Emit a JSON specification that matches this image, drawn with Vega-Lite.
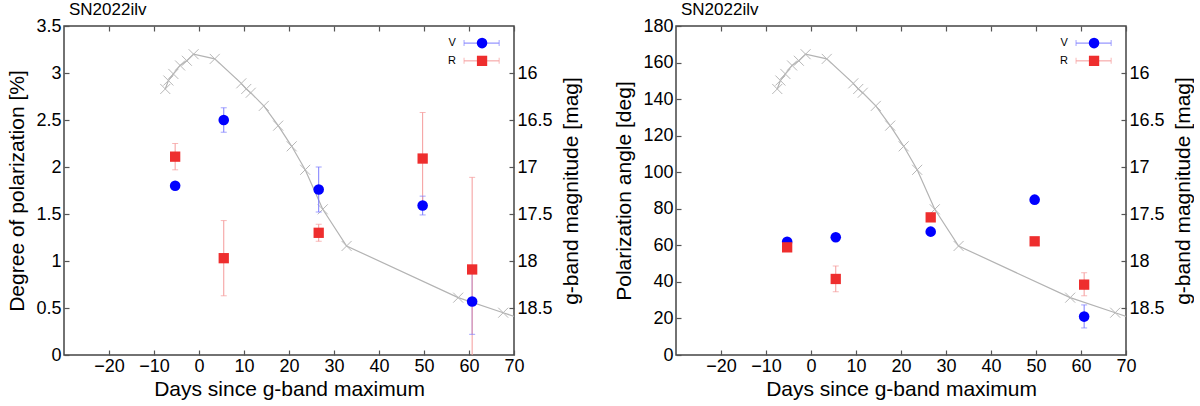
{
  "$schema": "https://vega.github.io/schema/vega-lite/v6.json",
  "background": "white",
  "padding": {"left": 6, "top": 0, "right": 0, "bottom": 0},
  "datasets": {
    "lc": [
      {"day": -7.5, "mag": 16.17}, {"day": -6.8, "mag": 16.08}, {"day": -5.7, "mag": 16.01},
      {"day": -4.2, "mag": 15.92}, {"day": -2.7, "mag": 15.87}, {"day": -1.2, "mag": 15.80},
      {"day": 3.5, "mag": 15.85}, {"day": 9.4, "mag": 16.11}, {"day": 10.5, "mag": 16.17},
      {"day": 11.5, "mag": 16.21}, {"day": 14.4, "mag": 16.35}, {"day": 17.6, "mag": 16.56},
      {"day": 20.6, "mag": 16.78}, {"day": 23.6, "mag": 17.03}, {"day": 27.5, "mag": 17.45},
      {"day": 32.8, "mag": 17.84}, {"day": 57.6, "mag": 18.39}, {"day": 67.6, "mag": 18.55},
      {"day": 75.0, "mag": 18.67}
    ],
    "pol": [
      {"band": "V", "day": -5.3, "val": 1.80, "lo": 1.77, "hi": 1.83},
      {"band": "V", "day": 5.5, "val": 2.50, "lo": 2.37, "hi": 2.63},
      {"band": "V", "day": 26.6, "val": 1.76, "lo": 1.52, "hi": 2.00},
      {"band": "V", "day": 49.7, "val": 1.59, "lo": 1.49, "hi": 1.69},
      {"band": "V", "day": 60.7, "val": 0.57, "lo": 0.22, "hi": 0.92},
      {"band": "R", "day": -5.3, "val": 2.11, "lo": 1.97, "hi": 2.25},
      {"band": "R", "day": 5.5, "val": 1.03, "lo": 0.63, "hi": 1.43},
      {"band": "R", "day": 26.6, "val": 1.30, "lo": 1.21, "hi": 1.39},
      {"band": "R", "day": 49.7, "val": 2.09, "lo": 1.60, "hi": 2.58},
      {"band": "R", "day": 60.7, "val": 0.91, "lo": -0.07, "hi": 1.89}
    ],
    "pa": [
      {"band": "V", "day": -5.3, "val": 62.0, "lo": 61.0, "hi": 63.0},
      {"band": "V", "day": 5.5, "val": 64.4, "lo": 63.0, "hi": 65.8},
      {"band": "V", "day": 26.6, "val": 67.5, "lo": 66.0, "hi": 69.0},
      {"band": "V", "day": 49.7, "val": 85.0, "lo": 84.0, "hi": 86.0},
      {"band": "V", "day": 60.7, "val": 21.0, "lo": 14.8, "hi": 27.4},
      {"band": "R", "day": -5.3, "val": 58.9, "lo": 57.5, "hi": 60.3},
      {"band": "R", "day": 5.5, "val": 41.6, "lo": 34.6, "hi": 48.7},
      {"band": "R", "day": 26.6, "val": 75.3, "lo": 74.0, "hi": 76.6},
      {"band": "R", "day": 49.7, "val": 62.2, "lo": 61.0, "hi": 63.4},
      {"band": "R", "day": 60.7, "val": 38.5, "lo": 32.4, "hi": 45.0}
    ],
    "key": [{"entry": 1}]
  },
  "spacing": 162,
  "bounds": "flush",
  "resolve": {"scale": {"fill": "independent", "color": "independent"}},
  "hconcat": [
    {
      "width": 450,
      "height": 329,
      "title": {"text": "SN2022ilv", "anchor": "start", "frame": "group", "fontSize": 17, "fontWeight": "normal", "offset": -2, "dx": 5, "color": "#000000"},
      "resolve": {"scale": {"y": "independent"}, "axis": {"x": "independent"}},
      "layer": [
        {
          "data": {"name": "lc"},
          "encoding": {
            "x": {"field": "day", "type": "quantitative", "scale": {"domain": [-30, 70]},
              "axis": {"orient": "bottom", "values": [-20, -10, 0, 10, 20, 30, 40, 50, 60, 70], "title": "Days since g-band maximum", "format": "~f", "labelOverlap": false, "labelPadding": 7, "titlePadding": 3}},
            "y": {"field": "mag", "type": "quantitative", "scale": {"domain": [15.5, 19], "reverse": true, "zero": false},
              "axis": {"orient": "right", "values": [16, 16.5, 17, 17.5, 18, 18.5], "title": "g-band magnitude [mag]", "titleAngle": -90, "titleBaseline": "top", "format": "~f", "labelOverlap": false}}
          },
          "layer": [
            {"mark": {"type": "line", "color": "#b3b3b3", "strokeWidth": 1.2, "clip": true}},
            {"mark": {"type": "point", "shape": "M-1,-1L1,1M1,-1L-1,1", "size": 100, "filled": false, "color": "#b8b8b8", "strokeWidth": 1, "opacity": 1, "clip": true}}
          ]
        },
        {
          "data": {"name": "pol"},
          "encoding": {
            "x": {"field": "day", "type": "quantitative", "scale": {"domain": [-30, 70]},
              "axis": {"orient": "top", "values": [-20, -10, 0, 10, 20, 30, 40, 50, 60, 70], "labels": false, "title": null, "minExtent": 0, "titlePadding": 0, "labelPadding": 0, "titleFontSize": 1}},
            "y": {"field": "val", "type": "quantitative", "scale": {"domain": [0, 3.5]},
              "axis": {"orient": "left", "values": [0, 0.5, 1, 1.5, 2, 2.5, 3, 3.5], "title": "Degree of polarization [%]", "format": "~f", "labelOverlap": false}}
          },
          "layer": [
            {
              "mark": {"type": "rule", "strokeWidth": 1, "clip": true},
              "encoding": {
                "y": {"field": "lo", "type": "quantitative", "scale": {"domain": [0, 3.5]},
                  "axis": {"orient": "left", "values": [0, 0.5, 1, 1.5, 2, 2.5, 3, 3.5], "title": "Degree of polarization [%]", "format": "~f", "labelOverlap": false}},
                "y2": {"field": "hi"},
                "color": {"field": "band", "type": "nominal", "scale": {"domain": ["V", "R"], "range": ["#7c7cff", "#f59a9a"]}, "legend": null}
              }
            },
            {
              "mark": {"type": "tick", "orient": "horizontal", "size": 6, "thickness": 1, "clip": true},
              "encoding": {
                "y": {"field": "lo", "type": "quantitative", "scale": {"domain": [0, 3.5]},
                  "axis": {"orient": "left", "values": [0, 0.5, 1, 1.5, 2, 2.5, 3, 3.5], "title": "Degree of polarization [%]", "format": "~f", "labelOverlap": false}},
                "color": {"field": "band", "type": "nominal", "scale": {"domain": ["V", "R"], "range": ["#7c7cff", "#f59a9a"]}, "legend": null}
              }
            },
            {
              "mark": {"type": "tick", "orient": "horizontal", "size": 6, "thickness": 1, "clip": true},
              "encoding": {
                "y": {"field": "hi", "type": "quantitative", "scale": {"domain": [0, 3.5]},
                  "axis": {"orient": "left", "values": [0, 0.5, 1, 1.5, 2, 2.5, 3, 3.5], "title": "Degree of polarization [%]", "format": "~f", "labelOverlap": false}},
                "color": {"field": "band", "type": "nominal", "scale": {"domain": ["V", "R"], "range": ["#7c7cff", "#f59a9a"]}, "legend": null}
              }
            },
            {
              "transform": [{"filter": "datum.band === 'V'"}],
              "mark": {"type": "point", "shape": "circle", "filled": true, "opacity": 1, "size": 112, "strokeWidth": 0, "color": "#0000ff"}
            },
            {
              "transform": [{"filter": "datum.band === 'R'"}],
              "mark": {"type": "point", "shape": "square", "filled": true, "opacity": 1, "size": 106, "strokeWidth": 0, "color": "#ee2e2e"}
            }
          ]
        },
        {
          "data": {"name": "key"},
          "layer": [
            {"mark": {"type": "rule", "color": "#7c7cff", "strokeWidth": 1},
              "encoding": {"x": {"datum": 58.9, "type": "quantitative", "axis": null}, "x2": {"datum": 66.7}, "y": {"datum": 0.948, "type": "quantitative", "scale": {"domain": [0, 1]}, "axis": null}}},
            {"mark": {"type": "tick", "orient": "vertical", "size": 6, "thickness": 1, "color": "#7c7cff"},
              "encoding": {"x": {"datum": 58.9, "type": "quantitative", "axis": null}, "y": {"datum": 0.948, "type": "quantitative", "axis": null}}},
            {"mark": {"type": "tick", "orient": "vertical", "size": 6, "thickness": 1, "color": "#7c7cff"},
              "encoding": {"x": {"datum": 66.7, "type": "quantitative", "axis": null}, "y": {"datum": 0.948, "type": "quantitative", "axis": null}}},
            {"mark": {"type": "point", "shape": "circle", "filled": true, "opacity": 1, "size": 112, "strokeWidth": 0, "color": "#0000ff"},
              "encoding": {"x": {"datum": 62.9, "type": "quantitative", "axis": null}, "y": {"datum": 0.948, "type": "quantitative", "axis": null}}},
            {"mark": {"type": "text", "text": "V", "align": "right", "baseline": "middle", "fontSize": 11, "color": "#000000"},
              "encoding": {"x": {"datum": 57.1, "type": "quantitative", "axis": null}, "y": {"datum": 0.948, "type": "quantitative", "axis": null}}},
            {"mark": {"type": "rule", "color": "#f59a9a", "strokeWidth": 1},
              "encoding": {"x": {"datum": 58.9, "type": "quantitative", "axis": null}, "x2": {"datum": 66.7}, "y": {"datum": 0.894, "type": "quantitative", "axis": null}}},
            {"mark": {"type": "tick", "orient": "vertical", "size": 6, "thickness": 1, "color": "#f59a9a"},
              "encoding": {"x": {"datum": 58.9, "type": "quantitative", "axis": null}, "y": {"datum": 0.894, "type": "quantitative", "axis": null}}},
            {"mark": {"type": "tick", "orient": "vertical", "size": 6, "thickness": 1, "color": "#f59a9a"},
              "encoding": {"x": {"datum": 66.7, "type": "quantitative", "axis": null}, "y": {"datum": 0.894, "type": "quantitative", "axis": null}}},
            {"mark": {"type": "point", "shape": "square", "filled": true, "opacity": 1, "size": 106, "strokeWidth": 0, "color": "#ee2e2e"},
              "encoding": {"x": {"datum": 62.9, "type": "quantitative", "axis": null}, "y": {"datum": 0.894, "type": "quantitative", "axis": null}}},
            {"mark": {"type": "text", "text": "R", "align": "right", "baseline": "middle", "fontSize": 11, "color": "#000000"},
              "encoding": {"x": {"datum": 57.1, "type": "quantitative", "axis": null}, "y": {"datum": 0.894, "type": "quantitative", "axis": null}}}
          ]
        }
      ]
    },
    {
      "width": 450,
      "height": 329,
      "title": {"text": "SN2022ilv", "anchor": "start", "frame": "group", "fontSize": 17, "fontWeight": "normal", "offset": -2, "dx": 5, "color": "#000000"},
      "resolve": {"scale": {"y": "independent"}, "axis": {"x": "independent"}},
      "layer": [
        {
          "data": {"name": "lc"},
          "encoding": {
            "x": {"field": "day", "type": "quantitative", "scale": {"domain": [-30, 70]},
              "axis": {"orient": "bottom", "values": [-20, -10, 0, 10, 20, 30, 40, 50, 60, 70], "title": "Days since g-band maximum", "format": "~f", "labelOverlap": false, "labelPadding": 7, "titlePadding": 3}},
            "y": {"field": "mag", "type": "quantitative", "scale": {"domain": [15.5, 19], "reverse": true, "zero": false},
              "axis": {"orient": "right", "values": [16, 16.5, 17, 17.5, 18, 18.5], "title": "g-band magnitude [mag]", "titleAngle": -90, "titleBaseline": "top", "format": "~f", "labelOverlap": false}}
          },
          "layer": [
            {"mark": {"type": "line", "color": "#b3b3b3", "strokeWidth": 1.2, "clip": true}},
            {"mark": {"type": "point", "shape": "M-1,-1L1,1M1,-1L-1,1", "size": 100, "filled": false, "color": "#b8b8b8", "strokeWidth": 1, "opacity": 1, "clip": true}}
          ]
        },
        {
          "data": {"name": "pa"},
          "encoding": {
            "x": {"field": "day", "type": "quantitative", "scale": {"domain": [-30, 70]},
              "axis": {"orient": "top", "values": [-20, -10, 0, 10, 20, 30, 40, 50, 60, 70], "labels": false, "title": null, "minExtent": 0, "titlePadding": 0, "labelPadding": 0, "titleFontSize": 1}},
            "y": {"field": "val", "type": "quantitative", "scale": {"domain": [0, 180]},
              "axis": {"orient": "left", "values": [0, 20, 40, 60, 80, 100, 120, 140, 160, 180], "title": "Polarization angle [deg]", "format": "~f", "labelOverlap": false}}
          },
          "layer": [
            {
              "mark": {"type": "rule", "strokeWidth": 1, "clip": true},
              "encoding": {
                "y": {"field": "lo", "type": "quantitative", "scale": {"domain": [0, 180]},
                  "axis": {"orient": "left", "values": [0, 20, 40, 60, 80, 100, 120, 140, 160, 180], "title": "Polarization angle [deg]", "format": "~f", "labelOverlap": false}},
                "y2": {"field": "hi"},
                "color": {"field": "band", "type": "nominal", "scale": {"domain": ["V", "R"], "range": ["#7c7cff", "#f59a9a"]}, "legend": null}
              }
            },
            {
              "mark": {"type": "tick", "orient": "horizontal", "size": 6, "thickness": 1, "clip": true},
              "encoding": {
                "y": {"field": "lo", "type": "quantitative", "scale": {"domain": [0, 180]},
                  "axis": {"orient": "left", "values": [0, 20, 40, 60, 80, 100, 120, 140, 160, 180], "title": "Polarization angle [deg]", "format": "~f", "labelOverlap": false}},
                "color": {"field": "band", "type": "nominal", "scale": {"domain": ["V", "R"], "range": ["#7c7cff", "#f59a9a"]}, "legend": null}
              }
            },
            {
              "mark": {"type": "tick", "orient": "horizontal", "size": 6, "thickness": 1, "clip": true},
              "encoding": {
                "y": {"field": "hi", "type": "quantitative", "scale": {"domain": [0, 180]},
                  "axis": {"orient": "left", "values": [0, 20, 40, 60, 80, 100, 120, 140, 160, 180], "title": "Polarization angle [deg]", "format": "~f", "labelOverlap": false}},
                "color": {"field": "band", "type": "nominal", "scale": {"domain": ["V", "R"], "range": ["#7c7cff", "#f59a9a"]}, "legend": null}
              }
            },
            {
              "transform": [{"filter": "datum.band === 'V'"}],
              "mark": {"type": "point", "shape": "circle", "filled": true, "opacity": 1, "size": 112, "strokeWidth": 0, "color": "#0000ff"}
            },
            {
              "transform": [{"filter": "datum.band === 'R'"}],
              "mark": {"type": "point", "shape": "square", "filled": true, "opacity": 1, "size": 106, "strokeWidth": 0, "color": "#ee2e2e"}
            }
          ]
        },
        {
          "data": {"name": "key"},
          "layer": [
            {"mark": {"type": "rule", "color": "#7c7cff", "strokeWidth": 1},
              "encoding": {"x": {"datum": 58.9, "type": "quantitative", "axis": null}, "x2": {"datum": 66.7}, "y": {"datum": 0.948, "type": "quantitative", "scale": {"domain": [0, 1]}, "axis": null}}},
            {"mark": {"type": "tick", "orient": "vertical", "size": 6, "thickness": 1, "color": "#7c7cff"},
              "encoding": {"x": {"datum": 58.9, "type": "quantitative", "axis": null}, "y": {"datum": 0.948, "type": "quantitative", "axis": null}}},
            {"mark": {"type": "tick", "orient": "vertical", "size": 6, "thickness": 1, "color": "#7c7cff"},
              "encoding": {"x": {"datum": 66.7, "type": "quantitative", "axis": null}, "y": {"datum": 0.948, "type": "quantitative", "axis": null}}},
            {"mark": {"type": "point", "shape": "circle", "filled": true, "opacity": 1, "size": 112, "strokeWidth": 0, "color": "#0000ff"},
              "encoding": {"x": {"datum": 62.9, "type": "quantitative", "axis": null}, "y": {"datum": 0.948, "type": "quantitative", "axis": null}}},
            {"mark": {"type": "text", "text": "V", "align": "right", "baseline": "middle", "fontSize": 11, "color": "#000000"},
              "encoding": {"x": {"datum": 57.1, "type": "quantitative", "axis": null}, "y": {"datum": 0.948, "type": "quantitative", "axis": null}}},
            {"mark": {"type": "rule", "color": "#f59a9a", "strokeWidth": 1},
              "encoding": {"x": {"datum": 58.9, "type": "quantitative", "axis": null}, "x2": {"datum": 66.7}, "y": {"datum": 0.894, "type": "quantitative", "axis": null}}},
            {"mark": {"type": "tick", "orient": "vertical", "size": 6, "thickness": 1, "color": "#f59a9a"},
              "encoding": {"x": {"datum": 58.9, "type": "quantitative", "axis": null}, "y": {"datum": 0.894, "type": "quantitative", "axis": null}}},
            {"mark": {"type": "tick", "orient": "vertical", "size": 6, "thickness": 1, "color": "#f59a9a"},
              "encoding": {"x": {"datum": 66.7, "type": "quantitative", "axis": null}, "y": {"datum": 0.894, "type": "quantitative", "axis": null}}},
            {"mark": {"type": "point", "shape": "square", "filled": true, "opacity": 1, "size": 106, "strokeWidth": 0, "color": "#ee2e2e"},
              "encoding": {"x": {"datum": 62.9, "type": "quantitative", "axis": null}, "y": {"datum": 0.894, "type": "quantitative", "axis": null}}},
            {"mark": {"type": "text", "text": "R", "align": "right", "baseline": "middle", "fontSize": 11, "color": "#000000"},
              "encoding": {"x": {"datum": 57.1, "type": "quantitative", "axis": null}, "y": {"datum": 0.894, "type": "quantitative", "axis": null}}}
          ]
        }
      ]
    }
  ],
  "config": {
    "font": "Liberation Sans",
    "view": {"stroke": "#444444", "strokeWidth": 1.5},
    "axis": {
      "grid": false,
      "domain": false,
      "tickSize": -5,
      "tickColor": "#555555",
      "tickWidth": 1.2,
      "labelFontSize": 18,
      "labelColor": "#000000",
      "labelPadding": 8,
      "labelFlush": false,
      "titleFontSize": 21,
      "titleFontWeight": "normal",
      "titleColor": "#000000",
      "titlePadding": 8
    }
  }
}
